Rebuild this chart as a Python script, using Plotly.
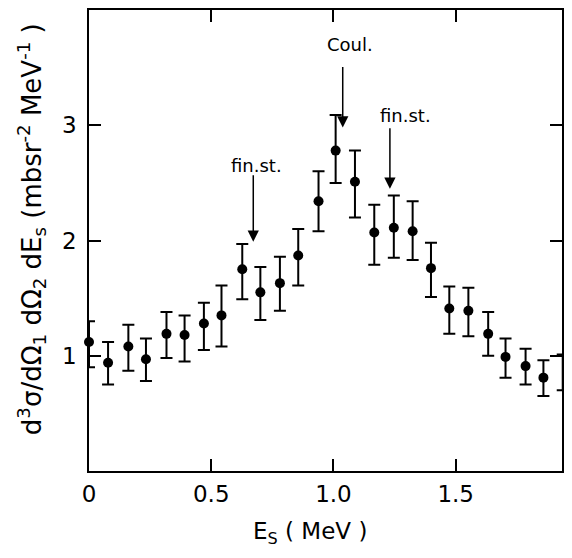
import plotly.graph_objects as go

# Data
energy = [0.00, 0.078, 0.161, 0.233, 0.317, 0.391, 0.470, 0.542, 0.627, 0.701,
          0.781, 0.856, 0.939, 1.009, 1.088, 1.167, 1.247, 1.324, 1.399, 1.474,
          1.552, 1.633, 1.704, 1.786, 1.859, 1.938]
cross_section = [1.12, 0.94, 1.08, 0.97, 1.19, 1.18, 1.28, 1.35, 1.75, 1.55,
                 1.63, 1.87, 2.34, 2.78, 2.51, 2.07, 2.11, 2.08, 1.76, 1.41,
                 1.39, 1.19, 0.99, 0.91, 0.81, 0.86]
err_plus = [0.18, 0.18, 0.19, 0.18, 0.19, 0.17, 0.18, 0.26, 0.22, 0.22,
            0.23, 0.23, 0.26, 0.31, 0.27, 0.24, 0.28, 0.26, 0.22, 0.19,
            0.20, 0.19, 0.16, 0.15, 0.15, 0.15]
err_minus = [0.22, 0.19, 0.21, 0.19, 0.21, 0.23, 0.23, 0.27, 0.26, 0.24,
             0.24, 0.26, 0.26, 0.28, 0.31, 0.28, 0.26, 0.25, 0.25, 0.22,
             0.22, 0.19, 0.18, 0.16, 0.16, 0.16]

x_ticks = [0, 0.5, 1.0, 1.5]
x_ticklabels = ["0", "0.5", "1.0", "1.5"]
y_ticks = [1, 2, 3]
y_ticklabels = ["1", "2", "3"]

# annotation labels with arrow tip (data coords) and label centre (data coords)
markers_text = ["fin.st.", "Coul.", "fin.st."]
arrow_x = [0.672, 1.038, 1.231]
arrow_y = [1.99, 2.98, 2.45]
arrow_len = [68, 62, 62]
text_x = [0.684, 1.066, 1.296]
text_y = [2.655, 3.70, 3.086]

FONT = "DejaVu Sans"

# page has an 8px body margin; figure occupies page x 8..564, y 8..550
# plot area spans page x 89..563, y 8..471
PL, PR, PT, PB = 89, 563, 8, 471
XMAX = 1.935


def px_x(p):
    return (p - PL) / (PR - PL)


def px_y(p):
    return (PB - p) / (PB - PT)


fig = go.Figure()
fig.add_trace(go.Scatter(
    x=energy, y=cross_section, mode="markers",
    marker=dict(color="black", size=10),
    error_y=dict(type="data", symmetric=False, array=err_plus, arrayminus=err_minus,
                 color="black", thickness=2, width=6),
    cliponaxis=False, showlegend=False,
))

annotations = []
for lab, axv, ayv, ln, tx, ty in zip(markers_text, arrow_x, arrow_y, arrow_len, text_x, text_y):
    annotations.append(dict(x=axv, y=ayv, xref="x", yref="y", ax=0, ay=-ln,
                            showarrow=True, arrowhead=2, arrowsize=1.5, arrowwidth=1.5,
                            arrowcolor="black", text=""))
    annotations.append(dict(x=tx, y=ty, xref="x", yref="y", text=lab, showarrow=False,
                            xanchor="center", yanchor="middle",
                            font=dict(family=FONT, size=18, color="black")))

annotations.append(dict(x=px_x(310), y=px_y(533), xref="paper", yref="paper",
                        xanchor="center", yanchor="middle",
                        text="E<sub>S</sub> ( MeV )", showarrow=False,
                        font=dict(family=FONT, size=23, color="black")))
annotations.append(dict(x=px_x(31), y=px_y(228), xref="paper", yref="paper",
                        xanchor="center", yanchor="middle",
                        text="d<sup>3</sup>σ/dΩ<sub>1</sub> dΩ<sub>2</sub> dE<sub>s</sub> (mbsr<sup>-2</sup> MeV<sup>-1</sup> )",
                        textangle=-90, showarrow=False,
                        font=dict(family=FONT, size=26, color="black")))

fig.update_layout(
    width=556, height=542,
    margin=dict(l=PL - 8, r=1, t=0, b=79),
    paper_bgcolor="white", plot_bgcolor="white",
    annotations=annotations,
    xaxis=dict(range=[0, XMAX], tickvals=x_ticks, ticktext=x_ticklabels,
               ticks="inside", ticklen=12, tickwidth=1.5, tickcolor="black",
               showline=True, linewidth=1.5, linecolor="black", mirror="ticks",
               showgrid=False, zeroline=False, ticklabelstandoff=2,
               tickfont=dict(family=FONT, size=23, color="black")),
    yaxis=dict(range=[0, 4], tickvals=y_ticks, ticktext=y_ticklabels,
               ticks="inside", ticklen=12, tickwidth=1.5, tickcolor="black",
               showline=True, linewidth=1.5, linecolor="black", mirror="ticks",
               showgrid=False, zeroline=False, ticklabelstandoff=6,
               tickfont=dict(family=FONT, size=23, color="black")),
)

fig.write_html("out.html")
